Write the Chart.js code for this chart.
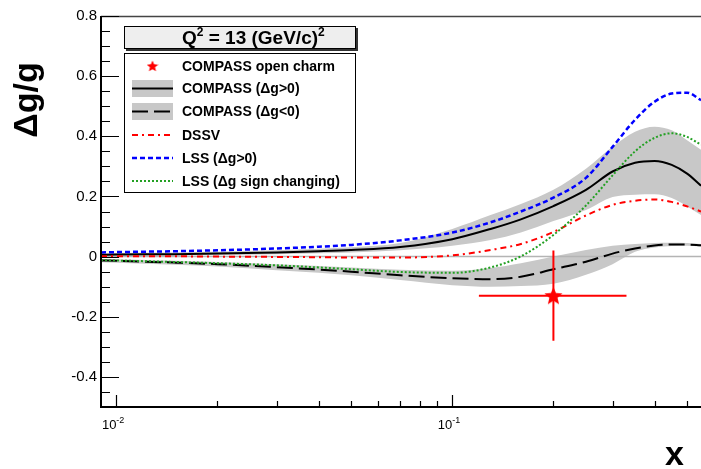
<!DOCTYPE html>
<html>
<head>
<meta charset="utf-8">
<script src="https://cdn.jsdelivr.net/npm/chart.js@4.4.1/dist/chart.umd.min.js"></script>
<style>
html, body { margin: 0; padding: 0; background: #fff; }
#wrap { width: 701px; height: 469px; position: relative; }
</style>
</head>
<body>
<div id="wrap"><canvas id="grafico"></canvas></div>
<script>
// x grid of the curves (log scale)
const xVals = [0.009, 0.01, 0.015, 0.02, 0.03, 0.04, 0.05, 0.07, 0.1, 0.13, 0.16, 0.2, 0.25, 0.3, 0.35, 0.4, 0.45, 0.5, 0.55];

const compassPos   = [0.006, 0.007, 0.008, 0.010, 0.014, 0.018, 0.022, 0.032, 0.058, 0.092, 0.124, 0.168, 0.222, 0.283, 0.312, 0.318, 0.305, 0.276, 0.236];
const compassPosHi = [0.011, 0.012, 0.014, 0.016, 0.021, 0.026, 0.031, 0.045, 0.092, 0.138, 0.175, 0.222, 0.292, 0.365, 0.415, 0.432, 0.420, 0.387, 0.355];
const compassPosLo = [0.002, 0.003, 0.004, 0.005, 0.008, 0.011, 0.014, 0.021, 0.036, 0.055, 0.080, 0.118, 0.155, 0.198, 0.206, 0.207, 0.195, 0.167, 0.138];

const compassNeg   = [-0.013, -0.014, -0.020, -0.025, -0.035, -0.043, -0.050, -0.062, -0.072, -0.075, -0.067, -0.042, -0.017, 0.010, 0.027, 0.037, 0.040, 0.040, 0.038];
const compassNegHi = [-0.008, -0.009, -0.014, -0.018, -0.025, -0.031, -0.036, -0.044, -0.047, -0.038, -0.022, 0.000, 0.022, 0.036, 0.042, 0.045, 0.046, 0.045, 0.042];
const compassNegLo = [-0.019, -0.020, -0.027, -0.033, -0.045, -0.054, -0.062, -0.078, -0.095, -0.100, -0.098, -0.090, -0.060, -0.025, 0.016, 0.030, 0.035, 0.036, 0.033];

const dssv    = [0.001, 0.001, 0.001, 0.000, -0.001, -0.002, -0.003, -0.003, 0.004, 0.022, 0.042, 0.082, 0.137, 0.172, 0.186, 0.190, 0.182, 0.167, 0.150];
const lssPos  = [0.014, 0.015, 0.018, 0.021, 0.027, 0.033, 0.039, 0.054, 0.080, 0.114, 0.150, 0.196, 0.262, 0.365, 0.455, 0.515, 0.542, 0.545, 0.520];
const lssSign = [-0.012, -0.013, -0.018, -0.022, -0.029, -0.036, -0.042, -0.051, -0.054, -0.036, 0.001, 0.072, 0.170, 0.270, 0.350, 0.395, 0.410, 0.398, 0.372];

// COMPASS open charm point
const charmX = 0.2, charmY = -0.13;
const charmXLow = 0.12, charmXHigh = 0.33;
const charmErr = 0.15;

const xMin = 0.009, xMax = 0.55, yMin = -0.5, yMax = 0.8;
const yTickValues = [-0.4, -0.2, 0, 0.2, 0.4, 0.6, 0.8];
const yTickLabels = ["-0.4", "-0.2", "0", "0.2", "0.4", "0.6", "0.8"];
const yMinorStep = 0.05;
const xLabelValues = [0.01, 0.1];
const xLabelExps = ["-2", "-1"];
const xMajorTicks = [0.01, 0.1];
const xMinorTicks = [0.02, 0.03, 0.04, 0.05, 0.06, 0.07, 0.08, 0.09, 0.2, 0.3, 0.4, 0.5];

const legendLabels = ["COMPASS open charm", "COMPASS (\u0394g>0)", "COMPASS (\u0394g<0)", "DSSV", "LSS (\u0394g>0)", "LSS (\u0394g sign changing)"];

const FONT = '"Liberation Sans", Arial, Helvetica, sans-serif';
const RED = "#ff0000", BLUE = "#0000ff", GREEN = "#22a022", BAND = "#c8c8c8";
const DASH_NEG = [16, 6], DASH_DSSV = [6, 4, 2, 4], DASH_LSS = [5, 3], DASH_SIGN = [2, 2];

function starCanvas(size, color) {
  const c = document.createElement("canvas");
  c.width = size; c.height = size;
  const g = c.getContext("2d");
  const cx = size / 2, cy = size / 2 + size * 0.04, rOut = size / 2, rIn = size / 2 * 0.45;
  g.beginPath();
  for (let i = 0; i < 10; i++) {
    const r = i % 2 === 0 ? rOut : rIn;
    const a = -Math.PI / 2 + i * Math.PI / 5;
    const px = cx + r * Math.cos(a), py = cy + r * Math.sin(a);
    if (i === 0) g.moveTo(px, py); else g.lineTo(px, py);
  }
  g.closePath();
  g.fillStyle = color;
  g.fill();
  return c;
}
const estrelaGrande = starCanvas(19, RED);
const estrelaPequena = starCanvas(12, RED);

const pts = ys => xVals.map((x, i) => ({ x, y: ys[i] }));

function curva(ys, cor, dash, largura, ordem) {
  return {
    data: pts(ys),
    borderColor: cor,
    borderWidth: largura,
    borderDash: dash,
    pointRadius: 0,
    fill: false,
    cubicInterpolationMode: "monotone",
    order: ordem,
  };
}

function banda(ys, fill) {
  return {
    data: pts(ys),
    borderWidth: 0,
    borderColor: "rgba(0,0,0,0)",
    backgroundColor: BAND,
    pointRadius: 0,
    fill: fill,
    cubicInterpolationMode: "monotone",
    order: 8,
  };
}

const molduraPlugin = {
  id: "moldura",
  afterDatasetsDraw(chart) {
    const ctx = chart.ctx;
    const a = chart.chartArea;
    const xs = chart.scales.x, ys = chart.scales.y;
    ctx.save();
    // moldura
    ctx.strokeStyle = "#444";
    ctx.lineWidth = 1.5;
    ctx.beginPath();
    ctx.moveTo(a.left, a.top + 0.5); ctx.lineTo(a.right, a.top + 0.5);
    ctx.stroke();
    ctx.strokeStyle = "#000";
    ctx.lineWidth = 2;
    ctx.beginPath();
    ctx.moveTo(a.left, a.top); ctx.lineTo(a.left, a.bottom); ctx.lineTo(a.right, a.bottom);
    ctx.stroke();

    // ticks do eixo y
    ctx.lineWidth = 1.2;
    ctx.beginPath();
    const nMin = Math.round(yMin / yMinorStep), nMax = Math.round(yMax / yMinorStep);
    for (let k = nMin; k <= nMax; k++) {
      const py = Math.round(ys.getPixelForValue(k * yMinorStep)) + 0.5;
      const len = k % 4 === 0 ? 18 : 9;
      ctx.moveTo(a.left, py); ctx.lineTo(a.left + len, py);
    }
    // ticks do eixo x
    xMajorTicks.forEach(v => {
      const px = Math.round(xs.getPixelForValue(v)) + 0.5;
      ctx.moveTo(px, a.bottom); ctx.lineTo(px, a.bottom - 12);
    });
    xMinorTicks.forEach(v => {
      const px = Math.round(xs.getPixelForValue(v)) + 0.5;
      ctx.moveTo(px, a.bottom); ctx.lineTo(px, a.bottom - 6);
    });
    ctx.stroke();

    // rotulos 10^n
    ctx.fillStyle = "#000";
    xLabelValues.forEach((v, i) => {
      const px = xs.getPixelForValue(v);
      ctx.font = "13px " + FONT;
      ctx.textAlign = "right";
      ctx.textBaseline = "alphabetic";
      ctx.fillText("10", px, a.bottom + 22);
      ctx.font = "9px " + FONT;
      ctx.textAlign = "left";
      ctx.fillText(xLabelExps[i], px, a.bottom + 16);
    });

    // titulos dos eixos
    ctx.font = "bold 34px " + FONT;
    ctx.textAlign = "left";
    ctx.fillText("x", 665, 465);
    ctx.save();
    ctx.translate(37, 100);
    ctx.rotate(-Math.PI / 2);
    ctx.textAlign = "center";
    ctx.fillText("\u0394g/g", 0, 0);
    ctx.restore();

    // caixa do titulo
    ctx.fillStyle = "#333";
    ctx.fillRect(126, 28, 232, 23);
    ctx.fillStyle = "#eeeeee";
    ctx.fillRect(124, 26, 232, 23);
    ctx.strokeStyle = "#000";
    ctx.lineWidth = 1;
    ctx.strokeRect(124.5, 26.5, 231, 22);
    ctx.fillStyle = "#000";
    ctx.textAlign = "left";
    let tx = 182;
    const partes = [["Q", 19, 44], ["2", 12, 36], [" = 13 (GeV/c)", 19, 44], ["2", 12, 36]];
    partes.forEach(([t, s, by]) => {
      ctx.font = "bold " + s + "px " + FONT;
      ctx.fillText(t, tx, by);
      tx += ctx.measureText(t).width;
    });

    // caixa da legenda
    ctx.fillStyle = "#fff";
    ctx.fillRect(124, 53, 232, 140);
    ctx.strokeRect(124.5, 53.5, 231, 139);
    const linhas = [66, 88.5, 111.5, 135, 158, 181];
    const x0 = 132, x1 = 173;
    ctx.textBaseline = "middle";
    linhas.forEach((ly, i) => {
      ctx.setLineDash([]);
      if (i === 0) {
        ctx.drawImage(estrelaPequena, (x0 + x1) / 2 - 6, ly - 6);
      } else if (i === 1 || i === 2) {
        ctx.fillStyle = BAND;
        ctx.fillRect(x0, ly - 8.5, x1 - x0, 17);
        ctx.strokeStyle = "#000";
        ctx.lineWidth = 2;
        if (i === 2) ctx.setLineDash(DASH_NEG);
        ctx.beginPath(); ctx.moveTo(x0, ly); ctx.lineTo(x1, ly); ctx.stroke();
      } else {
        const estilos = [[RED, DASH_DSSV, 2], [BLUE, DASH_LSS, 2.5], [GREEN, DASH_SIGN, 2]];
        const [cor, dash, lw] = estilos[i - 3];
        ctx.strokeStyle = cor;
        ctx.lineWidth = lw;
        ctx.setLineDash(dash);
        ctx.beginPath(); ctx.moveTo(x0, ly); ctx.lineTo(x1, ly); ctx.stroke();
      }
      ctx.setLineDash([]);
      ctx.fillStyle = "#000";
      ctx.font = "bold 14px " + FONT;
      ctx.fillText(legendLabels[i], 182, ly + 1);
    });
    ctx.restore();
  },
};

new Chart(document.getElementById("grafico"), {
  type: "line",
  data: {
    datasets: [
      {
        data: [{ x: charmX, y: charmY }],
        showLine: false,
        pointStyle: estrelaGrande,
        pointRadius: 9,
        order: 0,
      },
      {
        data: [{ x: charmXLow, y: charmY }, { x: charmXHigh, y: charmY }],
        borderColor: RED, borderWidth: 2, pointRadius: 0, tension: 0, order: 1,
      },
      {
        data: [{ x: charmX, y: charmY + charmErr }, { x: charmX, y: charmY - charmErr }],
        borderColor: RED, borderWidth: 2, pointRadius: 0, tension: 0, order: 1,
      },
      curva(lssSign, GREEN, DASH_SIGN, 2, 2),
      curva(lssPos, BLUE, DASH_LSS, 2.5, 2),
      curva(dssv, RED, DASH_DSSV, 2, 2),
      curva(compassNeg, "#000", DASH_NEG, 2, 2),
      curva(compassPos, "#000", [], 2, 2),
      {
        data: [{ x: xMin, y: 0 }, { x: xMax, y: 0 }],
        borderColor: "#b4b4b4", borderWidth: 1.5, pointRadius: 0, tension: 0, order: 5,
      },
      banda(compassNegLo, false),
      banda(compassNegHi, "-1"),
      banda(compassPosLo, false),
      banda(compassPosHi, "-1"),
    ],
  },
  options: {
    responsive: true,
    maintainAspectRatio: false,
    animation: false,
    events: [],
    layout: { autoPadding: false, padding: { top: 16, left: 0, right: 0, bottom: 0 } },
    plugins: {
      legend: { display: false },
      title: { display: false },
      tooltip: { enabled: false },
    },
    scales: {
      x: {
        type: "logarithmic",
        min: xMin,
        max: xMax,
        grid: { display: false, drawTicks: false },
        border: { display: false },
        ticks: { display: false },
        afterFit(scale) { scale.height = 62; },
      },
      y: {
        type: "linear",
        min: yMin,
        max: yMax,
        grid: { display: false, drawTicks: false },
        border: { display: false },
        afterBuildTicks(scale) { scale.ticks = yTickValues.map(v => ({ value: v })); },
        ticks: {
          color: "#000",
          padding: 4,
          autoSkip: false,
          font: { family: FONT, size: 15 },
          callback: (v, i) => yTickLabels[i],
        },
        afterFit(scale) { scale.width = 101; },
      },
    },
  },
  plugins: [molduraPlugin],
});
</script>
</body>
</html>
